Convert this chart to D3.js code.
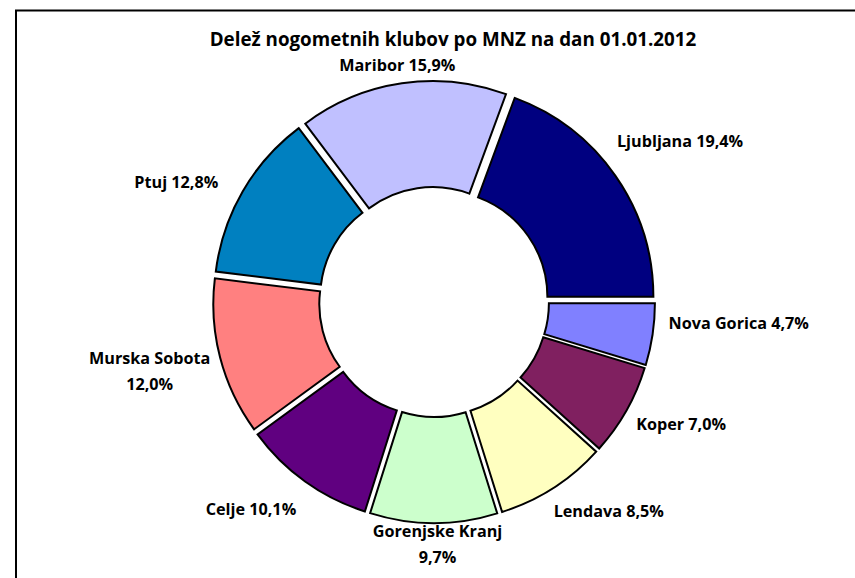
<!DOCTYPE html>
<html>
<head>
<meta charset="utf-8">
<script src="https://cdn.jsdelivr.net/npm/d3@7"></script>
<style>
  html, body { margin: 0; padding: 0; background: #fff; }
  svg { display: block; }
  text { font-family: "Open Sans", Lato, sans-serif; font-weight: bold; fill: #000; }
</style>
</head>
<body>
<svg id="chart" width="855" height="578"></svg>
<script>
// ---- data ----
const titleText = "Delež nogometnih klubov po MNZ na dan 01.01.2012";
const regions = ["Ljubljana", "Nova Gorica", "Koper", "Lendava", "Gorenjske Kranj",
                 "Celje", "Murska Sobota", "Ptuj", "Maribor"];
const shares = [19.4, 4.7, 7.0, 8.5, 9.7, 10.1, 12.0, 12.8, 15.9];
const colors = ["#000080", "#8080FF", "#802060", "#FFFFC0", "#CCFFCC",
                "#600080", "#FF8080", "#0080C0", "#C0C0FF"];
// label text lines (Excel wrapped two labels)
const labelLines = {
  "Murska Sobota": ["Murska Sobota", "12,0%"],
  "Gorenjske Kranj": ["Gorenjske Kranj", "9,7%"]
};

// ---- layout ----
const W = 855, H = 578;
const cx = 434, cy = 302;
const rOuter = 212, rInner = 106, explode = 9;
const labelRx = 300, labelRy = 240;
const labelFont = 16.2, lineGap = 26;
// manual label nudges (like hand-placed Excel data labels)
const nudge = {
  "Ljubljana": [0, -23], "Nova Gorica": [8, -14], "Koper": [-14, 4],
  "Lendava": [13, 7], "Gorenjske Kranj": [4, 3], "Celje": [-8, 13],
  "Murska Sobota": [6, 9], "Ptuj": [2, 1], "Maribor": [7, 1]
};

const svg = d3.select("#chart");

// chart frame
svg.append("rect")
  .attr("x", 16).attr("y", 10.5)
  .attr("width", W + 20).attr("height", H + 20)
  .attr("fill", "#fff").attr("stroke", "#000").attr("stroke-width", 2);

// title
svg.append("text")
  .attr("x", 453).attr("y", 45.5)
  .attr("text-anchor", "middle")
  .attr("font-size", 18.8)
  .text(titleText);

const total = d3.sum(shares);
const start = Math.PI / 2 - (shares[0] / total) * 2 * Math.PI;

const pie = d3.pie().sort(null).value(d => d.v)
  .startAngle(start).endAngle(start + 2 * Math.PI);
const arc = d3.arc().innerRadius(rInner).outerRadius(rOuter);

const data = regions.map((name, i) => ({ name, v: shares[i], color: colors[i] }));
const arcs = pie(data);

const g = svg.append("g").attr("transform", `translate(${cx},${cy})`);

g.selectAll("path.slice")
  .data(arcs)
  .join("path")
  .attr("class", "slice")
  .attr("d", arc)
  .attr("fill", d => d.data.color)
  .attr("stroke", "#000")
  .attr("stroke-width", 2)
  .attr("stroke-linejoin", "miter")
  .attr("transform", d => {
    const m = (d.startAngle + d.endAngle) / 2;
    return `translate(${Math.sin(m) * explode},${-Math.cos(m) * explode})`;
  });

// labels
const fmt = v => v.toFixed(1).replace(".", ",") + "%";
g.selectAll("text.lab")
  .data(arcs)
  .join("text")
  .attr("class", "lab")
  .attr("text-anchor", "middle")
  .attr("font-size", labelFont)
  .each(function (d) {
    const m = (d.startAngle + d.endAngle) / 2;
    const n = nudge[d.data.name] || [0, 0];
    const x = Math.sin(m) * labelRx + n[0];
    const y = -Math.cos(m) * labelRy + n[1];
    const lines = labelLines[d.data.name] || [d.data.name + " " + fmt(d.data.v)];
    const t = d3.select(this);
    const y0 = y - (lines.length - 1) * lineGap / 2 + 5.5;
    lines.forEach((ln, i) => {
      t.append("tspan").attr("x", x).attr("y", y0 + i * lineGap).text(ln);
    });
  });
</script>
</body>
</html>
